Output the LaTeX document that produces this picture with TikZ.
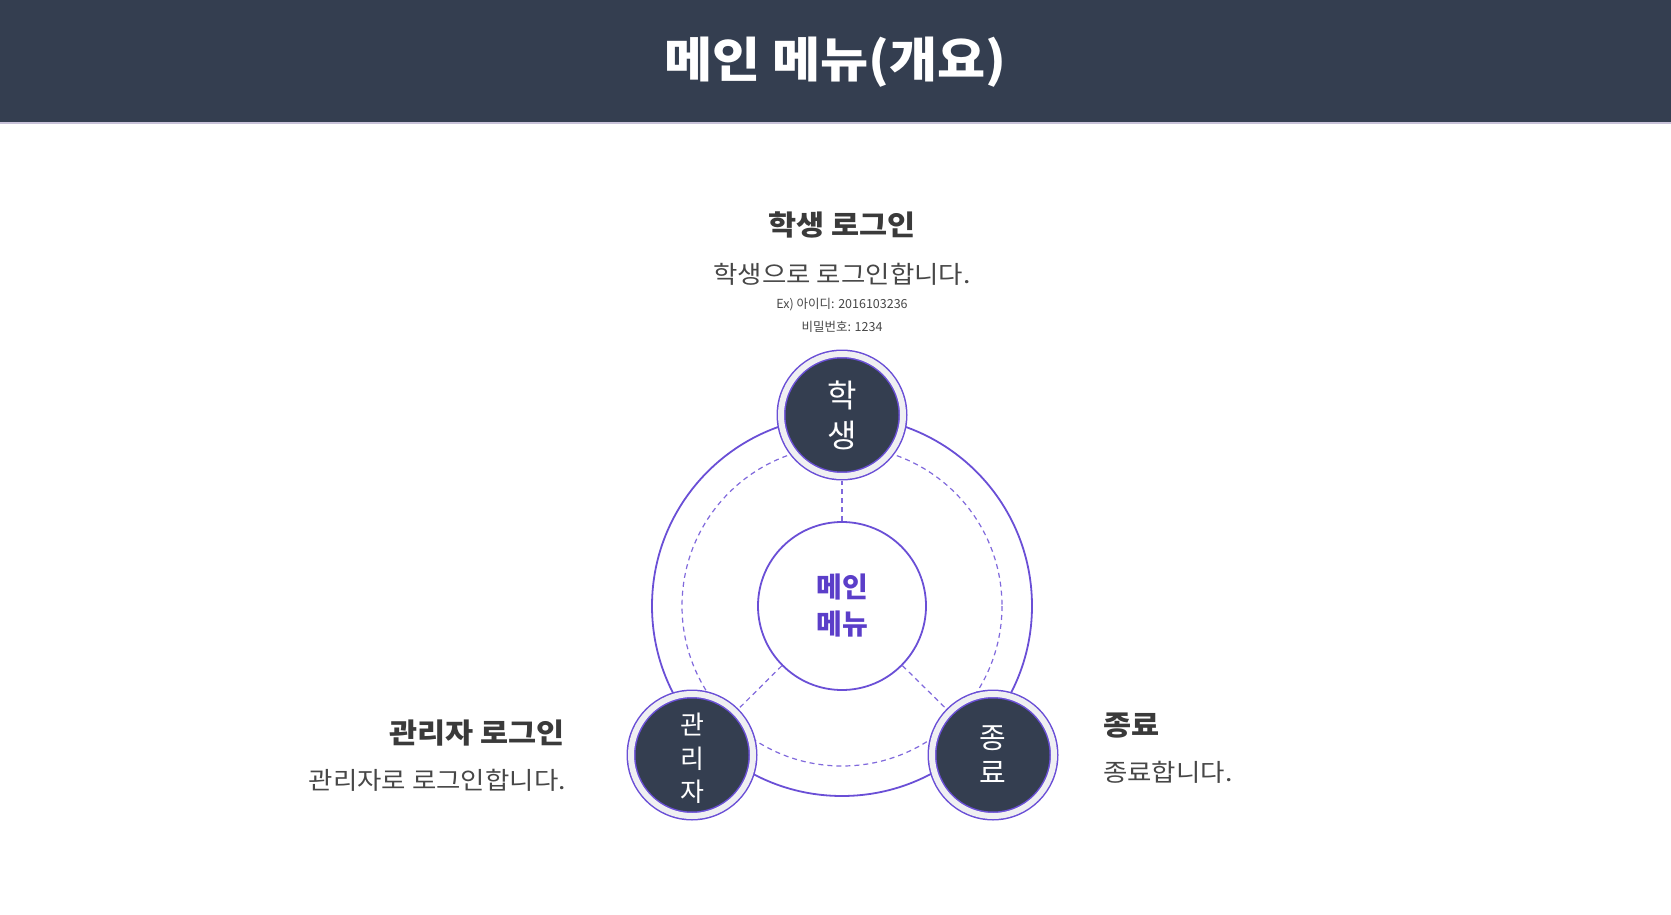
\documentclass[tikz,border=0pt]{standalone}
\usepackage{fontspec}
\setmainfont{Noto Sans CJK KR}
\newfontfamily\widefont{Noto Sans CJK KR}[FakeStretch=1.09]
\usepackage{xcolor}
\usepackage{tikz}
\usetikzlibrary{positioning}

\definecolor{headbg}{HTML}{343E50}
\definecolor{headline}{HTML}{C8C2D9}
\definecolor{accent}{HTML}{6A4FD6}
\definecolor{menutext}{HTML}{5B3EC9}
\definecolor{ringgray}{HTML}{EFEFF2}
\definecolor{labeltext}{HTML}{3A3A3A}
\definecolor{desctext}{HTML}{474747}

\begin{document}
\begin{tikzpicture}[x=1pt,y=-1pt,
    bubble/.style={circle, minimum size=122pt, inner sep=0pt, outer sep=4.5pt, fill=headbg, draw=accent, line width=1.5pt, double=ringgray, double distance=6pt, text=white, align=center},
    hub/.style={circle, minimum size=168pt, inner sep=0pt, fill=white, draw=accent, line width=1.8pt, text=menutext, align=center, font=\fontsize{28}{37}\selectfont\bfseries},
    headtxt/.style={inner sep=0pt, text=labeltext, font=\widefont\fontsize{28}{32}\selectfont\bfseries},
    desctxt/.style={inner sep=0pt, text=desctext, font=\widefont\fontsize{24.3}{28}\selectfont},
    smalltxt/.style={inner sep=0pt, text=desctext, font=\fontsize{12.5}{15}\selectfont},
    dashline/.style={accent!85, line width=1.2pt, dash pattern=on 5pt off 4pt}]
\useasboundingbox (0,0) rectangle (1671,915);

% header
\fill[headbg] (0,0) rectangle (1671,122);
\fill[headline] (0,122) rectangle (1671,124.5);
\node (title) at (835.5,62) [text=white, font=\widefont\fontsize{48}{56}\selectfont\bfseries] {메인 메뉴(개요)};

% rings
\coordinate (c) at (842,606);
\draw[accent, line width=1.8pt] (c) circle (190);
\draw[dashline] (c) circle (160);

% nodes
\node (menu) at (c) [hub] {메인\\메뉴};
\node (student) at (842,415) [bubble, font=\fontsize{32}{40}\selectfont] {학\\생};
\node (admin) at (692,755) [bubble, font=\fontsize{26}{33.5}\selectfont] {\rule{0pt}{29pt}관\\리\\자};
\node (quit) at (993,755) [bubble, font=\fontsize{29}{35}\selectfont] {종\\료};

\foreach \n in {student,admin,quit} {
    \draw[dashline] (menu) -- (\n);
}

% labels
\node (stuHead) at (842,225) [headtxt] {학생 로그인};
\node (stuDesc) at (842,274) [desctxt] {학생으로 로그인합니다.};
\node (stuId) at (842,305) [smalltxt] {Ex) 아이디: 2016103236};
\node (stuPw) at (842,327) [smalltxt] {비밀번호: 1234};

\node (admHead) at (565,733) [headtxt, anchor=east] {관리자 로그인};
\node (admDesc) at (566,780) [desctxt, anchor=east] {관리자로 로그인합니다.};

\node (quitHead) at (1103,726) [headtxt, anchor=west] {종료};
\node (quitDesc) at (1103,772) [desctxt, anchor=west] {종료합니다.};
\end{tikzpicture}
\end{document}
